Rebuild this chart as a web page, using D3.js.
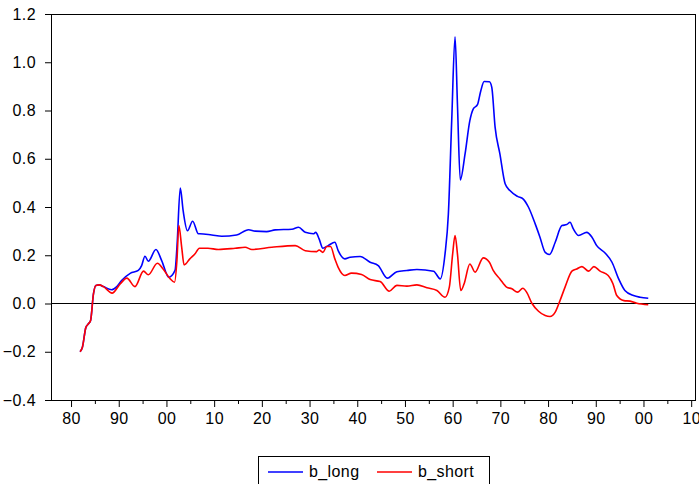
<!DOCTYPE html>
<html>
<head>
<meta charset="utf-8">
<script src="https://cdn.jsdelivr.net/npm/d3@7"></script>
<style>
  body { margin: 0; background: #fff; }
  #chart text { font-family: Arial, 'Liberation Sans', sans-serif; letter-spacing: 0.4px; }
</style>
</head>
<body>
<div id="chart"></div>
<script>
// ------------- Data ---------------------------------------- //
const longYears = [1881.9, 1882.4, 1883.1, 1883.6, 1884.1, 1884.7, 1885.2, 1885.9, 1886.8, 1888.5,
  1889.6, 1890.6, 1892.4, 1894.1, 1894.8, 1895.5, 1896.2, 1897.8, 1899.0, 1900.5,
  1901.8, 1902.2, 1902.9, 1903.5, 1904.4, 1905.5, 1906.7, 1907.0, 1909.5, 1911.6,
  1914.7, 1917.2, 1918.6, 1921.0, 1922.8, 1926.3, 1927.7, 1929.1, 1930.8, 1931.3,
  1932.0, 1932.8, 1933.9, 1935.3, 1936.0, 1937.4, 1938.5, 1940.6, 1942.7, 1944.4,
  1946.3, 1948.3, 1950.4, 1952.5, 1956.0, 1957.4, 1958.4, 1959.1, 1959.8, 1960.5,
  1961.0, 1961.6, 1962.6, 1963.6, 1964.3, 1965.2, 1965.9, 1966.6, 1967.7, 1968.2,
  1968.9, 1969.9, 1971.0, 1972.0, 1973.6, 1974.8, 1975.9, 1977.3, 1978.3, 1979.4,
  1980.3, 1981.5, 1982.9, 1983.9, 1984.6, 1985.3, 1986.4, 1988.1, 1989.2, 1990.2,
  1992.0, 1993.4, 1994.8, 1996.1, 1997.9, 1999.3, 2001.0];
const bLong = [-0.200, -0.180, -0.100, -0.085, -0.070, 0.040, 0.075, 0.077, 0.070, 0.057,
  0.070, 0.095, 0.125, 0.137, 0.157, 0.196, 0.175, 0.224, 0.178, 0.109,
  0.137, 0.233, 0.479, 0.385, 0.302, 0.341, 0.289, 0.289, 0.284, 0.279,
  0.284, 0.306, 0.300, 0.298, 0.305, 0.308, 0.316, 0.295, 0.289, 0.295,
  0.268, 0.229, 0.240, 0.254, 0.219, 0.185, 0.192, 0.195, 0.171, 0.157,
  0.105, 0.132, 0.137, 0.141, 0.134, 0.102, 0.206, 0.371, 0.758, 1.106,
  0.827, 0.512, 0.620, 0.758, 0.806, 0.824, 0.882, 0.920, 0.919, 0.896,
  0.730, 0.620, 0.496, 0.468, 0.444, 0.433, 0.399, 0.330, 0.275, 0.212,
  0.203, 0.254, 0.323, 0.327, 0.337, 0.309, 0.282, 0.295, 0.275, 0.240,
  0.208, 0.171, 0.102, 0.054, 0.033, 0.026, 0.022];

const shortYears = [1881.9, 1882.4, 1883.1, 1883.6, 1884.1, 1884.7, 1885.2, 1885.9, 1886.8, 1888.6,
  1890.3, 1891.7, 1893.4, 1895.2, 1896.2, 1898.1, 1899.3, 1900.8, 1901.7, 1902.2,
  1902.6, 1903.2, 1903.7, 1904.9, 1906.0, 1906.9, 1908.7, 1910.9, 1914.4, 1916.5,
  1917.9, 1922.1, 1927.0, 1929.1, 1931.5, 1932.0, 1932.8, 1933.6, 1934.4, 1935.3,
  1936.0, 1937.4, 1938.8, 1940.9, 1942.7, 1944.8, 1946.7, 1948.3, 1950.4, 1952.5,
  1954.6, 1956.7, 1958.4, 1959.3, 1960.0, 1960.5, 1961.0, 1961.7, 1962.4, 1963.6,
  1964.7, 1966.4, 1967.7, 1968.5, 1969.9, 1971.3, 1972.4, 1973.6, 1974.7, 1975.5,
  1976.6, 1978.0, 1979.4, 1980.4, 1981.5, 1982.5, 1983.6, 1985.0, 1986.0, 1987.1,
  1988.5, 1989.6, 1990.9, 1992.6, 1993.6, 1994.4, 1995.9, 1997.2, 1998.6, 2001.0];
const bShort = [-0.200, -0.180, -0.100, -0.085, -0.070, 0.040, 0.075, 0.077, 0.070, 0.043,
  0.081, 0.105, 0.070, 0.134, 0.119, 0.167, 0.143, 0.102, 0.088, 0.178,
  0.323, 0.233, 0.160, 0.185, 0.206, 0.229, 0.229, 0.224, 0.229, 0.233,
  0.224, 0.233, 0.240, 0.219, 0.215, 0.222, 0.212, 0.236, 0.236, 0.185,
  0.150, 0.116, 0.126, 0.120, 0.099, 0.091, 0.051, 0.075, 0.072, 0.077,
  0.065, 0.054, 0.026, 0.068, 0.206, 0.282, 0.206, 0.054, 0.082, 0.164,
  0.130, 0.189, 0.171, 0.137, 0.102, 0.068, 0.061, 0.047, 0.063, 0.047,
  0.001, -0.032, -0.050, -0.054, -0.036, 0.012, 0.070, 0.134, 0.143, 0.153,
  0.134, 0.153, 0.134, 0.116, 0.082, 0.033, 0.012, 0.010, 0.001, -0.005];

const yTicks = [-0.4, -0.2, 0.0, 0.2, 0.4, 0.6, 0.8, 1.0, 1.2];
const xMajorTicks = d3.range(1880, 2011, 10);
const xMinorTicks = d3.range(1885, 2010, 10);

const seriesNames = ['b_long', 'b_short'];
const seriesColors = ['#0000ff', '#ff0000'];

// ------------- Layout ----------------- //
const totalWidth = 699, totalHeight = 484;
const margin = { top: 14, right: 4, bottom: 84, left: 51 },
  width = totalWidth - margin.left - margin.right,
  height = totalHeight - margin.top - margin.bottom;

const svg = d3
  .select('#chart')
  .append('svg')
  .attr('width', totalWidth)
  .attr('height', totalHeight)
  .append('g')
  .attr('transform', 'translate(' + margin.left + ',' + margin.top + ')');

// scales
const x = d3.scaleLinear().domain([1875.8, 2010.8]).range([0, width]);
const y = d3.scaleLinear().domain([-0.4, 1.2]).range([height, 0]);

// y axis
const leftAxis = d3
  .axisLeft(y)
  .tickValues(yTicks)
  .tickSize(6)
  .tickPadding(9)
  .tickFormat(d3.format('.1f'));

svg
  .append('g')
  .call(leftAxis)
  .call((g) => g.select('.domain').remove())
  .selectAll('text')
  .attr('font-size', 16)
  .attr('fill', '#000');

// x axis: major ticks with labels, minor ticks without
const bottomAxis = d3
  .axisBottom(x)
  .tickValues(xMajorTicks)
  .tickSize(7)
  .tickPadding(6)
  .tickFormat((d) => String(d % 100).padStart(2, '0'));

svg
  .append('g')
  .attr('transform', 'translate(0,' + height + ')')
  .call(bottomAxis)
  .call((g) => g.select('.domain').remove())
  .selectAll('text')
  .attr('font-size', 16)
  .attr('fill', '#000');

svg
  .append('g')
  .attr('transform', 'translate(0,' + height + ')')
  .call(d3.axisBottom(x).tickValues(xMinorTicks).tickSize(4).tickFormat(''))
  .call((g) => g.select('.domain').remove());

// zero line
svg
  .append('line')
  .attr('x1', 0)
  .attr('x2', width)
  .attr('y1', y(0))
  .attr('y2', y(0))
  .attr('stroke', '#000')
  .attr('stroke-width', 1);

// the lines
const line = d3
  .line()
  .x((d) => x(d[0]))
  .y((d) => y(d[1]))
  .curve(d3.curveMonotoneX);

const series = [
  d3.zip(longYears, bLong),
  d3.zip(shortYears, bShort)
];

series.forEach(function (data, i) {
  svg
    .append('path')
    .datum(data)
    .attr('fill', 'none')
    .attr('stroke', seriesColors[i])
    .attr('stroke-width', 1.6)
    .attr('stroke-linejoin', 'round')
    .attr('d', line);
});

// plot frame
svg
  .append('rect')
  .attr('x', 0.5)
  .attr('y', 0.5)
  .attr('width', width)
  .attr('height', height)
  .attr('fill', 'none')
  .attr('stroke', '#000')
  .attr('stroke-width', 1);

// legend
const legend = d3
  .select('#chart svg')
  .append('g')
  .attr('transform', 'translate(258,456)');

legend
  .append('rect')
  .attr('x', 0.5)
  .attr('y', 0.5)
  .attr('width', 231)
  .attr('height', 32)
  .attr('fill', '#fff')
  .attr('stroke', '#000')
  .attr('stroke-width', 1);

const legendOffsets = [10, 119];
seriesNames.forEach(function (name, i) {
  legend
    .append('line')
    .attr('x1', legendOffsets[i])
    .attr('x2', legendOffsets[i] + 35)
    .attr('y1', 16)
    .attr('y2', 16)
    .attr('stroke', seriesColors[i])
    .attr('stroke-width', 1.5);
  legend
    .append('text')
    .attr('x', legendOffsets[i] + 41)
    .attr('y', 21)
    .attr('font-size', 16)
    .attr('fill', '#000')
    .text(name);
});
</script>
</body>
</html>
